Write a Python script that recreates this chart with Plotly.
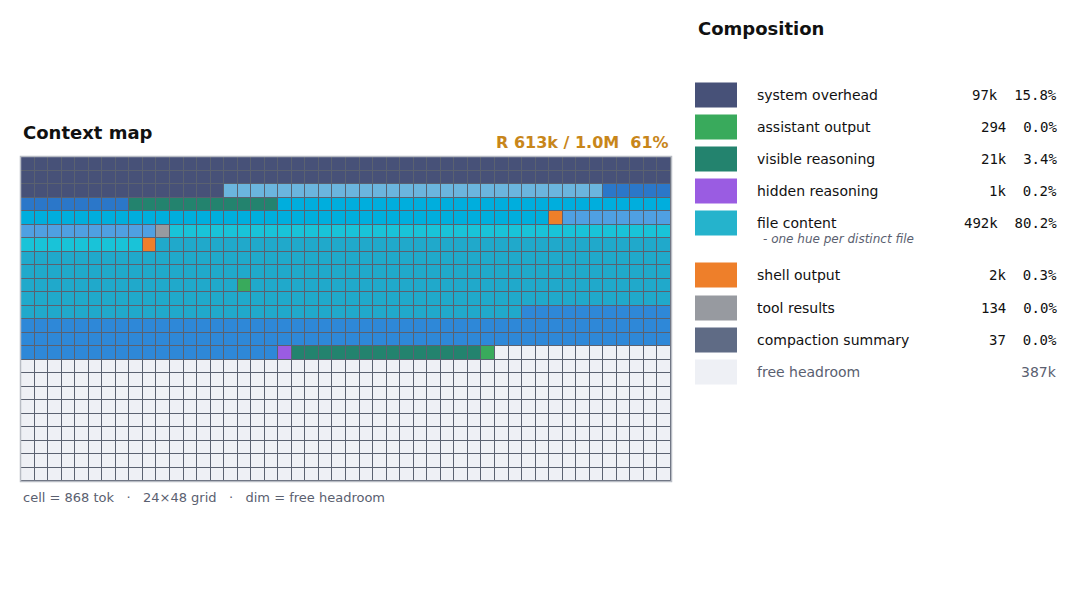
import plotly.graph_objects as go

# category codes used in the grid
cat_names = ["free", "overhead", "assistant", "visible", "hidden", "shell", "tool",
             "file_a", "file_b", "file_c", "file_d", "file_e", "file_f", "file_g"]
cat_colors = ["#EEF0F5", "#475178", "#39AA5C", "#23836E", "#9A5CE2", "#EE7F2A", "#979AA0",
              "#6BB5DE", "#2B77C9", "#00AEDD", "#4FA0E2", "#19C3D8", "#20A9CB", "#2E88D8"]

n_rows, n_cols = 24, 48

# each row as runs of (category, count)
rows = [
    [("overhead", 48)],
    [("overhead", 48)],
    [("overhead", 15), ("file_a", 28), ("file_b", 5)],
    [("file_b", 8), ("visible", 11), ("file_c", 29)],
    [("file_c", 39), ("shell", 1), ("file_d", 8)],
    [("file_d", 10), ("tool", 1), ("file_e", 37)],
    [("file_e", 9), ("shell", 1), ("file_f", 38)],
    [("file_f", 48)],
    [("file_f", 48)],
    [("file_f", 16), ("assistant", 1), ("file_f", 31)],
    [("file_f", 48)],
    [("file_f", 37), ("file_g", 11)],
    [("file_g", 48)],
    [("file_g", 48)],
    [("file_g", 19), ("hidden", 1), ("visible", 14), ("assistant", 1), ("free", 13)],
]

z = []
for r in range(n_rows):
    line = []
    runs = rows[r] if r < len(rows) else [("free", n_cols)]
    for name, count in runs:
        line += [cat_names.index(name)] * count
    z.append(line)

n = len(cat_names)
colorscale = []
for i, c in enumerate(cat_colors):
    colorscale.append([i / n, c])
    colorscale.append([(i + 1) / n, c])

legend_labels = ["system overhead", "assistant output", "visible reasoning", "hidden reasoning",
                 "file content", "shell output", "tool results", "compaction summary", "free headroom"]
legend_values = ["97k  15.8%", "294  0.0%", "21k  3.4%", "1k  0.2%", "492k  80.2%",
                 "2k  0.3%", "134  0.0%", "37  0.0%", "387k"]
legend_colors = ["#475178", "#39AA5C", "#23836E", "#9A5CE2", "#25B3CC",
                 "#EE7F2A", "#979AA0", "#5F6B85", "#EEF0F5"]
legend_y = [95, 127, 159, 191, 223, 275, 308, 340, 372]

fig = go.Figure(go.Heatmap(
    z=z, zmin=-0.5, zmax=n - 0.5, colorscale=colorscale, showscale=False,
    xgap=1, ygap=1, hoverinfo="skip",
))

W, H = 1080, 598
OFF = 8  # page margin offset


def fx(x):
    return (x - OFF) / W


def fy(y):
    return 1 - (y - OFF) / H


fig.update_layout(
    width=W, height=H, margin=dict(l=0, r=0, t=0, b=0),
    paper_bgcolor="white", plot_bgcolor="#5a6170",
    font=dict(family="DejaVu Sans", color="#111111"),
    xaxis=dict(domain=[fx(21), fx(671)], range=[-0.5, n_cols - 0.5], visible=False, fixedrange=True),
    yaxis=dict(domain=[fy(481), fy(157)], range=[n_rows - 0.5, -0.5], visible=False, fixedrange=True),
)

shapes = [dict(type="rect", xref="paper", yref="paper",
               x0=fx(20.5), x1=fx(671.5), y0=fy(481.5), y1=fy(156.5),
               line=dict(color="#b8bcc4", width=1.5), fillcolor="rgba(0,0,0,0)")]
ann = []


def text(x, y, s, size, color="#111111", anchor="left", bold=False, family=None, italic=False):
    t = f"<b>{s}</b>" if bold else s
    if italic:
        t = f"<i>{t}</i>"
    f = dict(size=size, color=color)
    if family:
        f["family"] = family
    ann.append(dict(x=fx(x), y=fy(y), xref="paper", yref="paper", text=t, showarrow=False,
                    xanchor=anchor, yanchor="middle", font=f))


text(21, 133, "Context map", 18, bold=True)
text(671, 143, "R 613k / 1.0M  61%", 16, color="#C8861A", anchor="right", bold=True)
text(21, 497, "cell = 868 tok   ·   24×48 grid   ·   dim = free headroom", 13, color="#5a6070")
text(696, 29, "Composition", 18, bold=True)

for lab, val, col, y in zip(legend_labels, legend_values, legend_colors, legend_y):
    shapes.append(dict(type="rect", xref="paper", yref="paper",
                       x0=fx(695), x1=fx(737), y0=fy(y + 12.5), y1=fy(y - 12.5),
                       line=dict(width=0), fillcolor=col))
    dim = lab == "free headroom"
    text(755, y, lab, 14, color="#5a6070" if dim else "#111111")
    text(1059, y, val, 14, color="#5a6070" if dim else "#111111", anchor="right",
         family="DejaVu Sans Mono" if not dim else None)
text(761, 239, "- one hue per distinct file", 12, color="#5a6070", italic=True)

fig.update_layout(shapes=shapes, annotations=ann)
fig.write_html("out.html")
